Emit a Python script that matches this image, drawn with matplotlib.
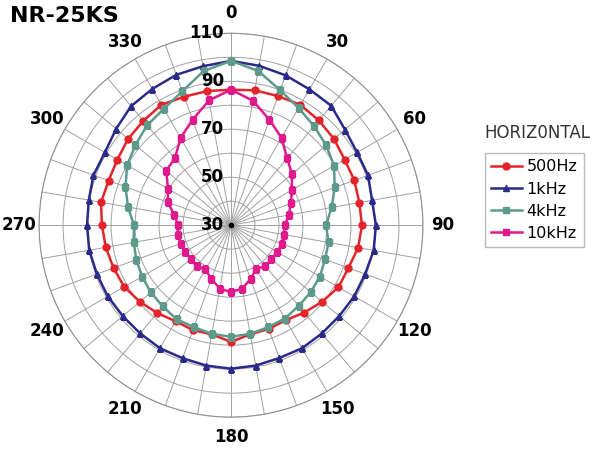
import numpy as np
import matplotlib
matplotlib.use("Agg")
import matplotlib.pyplot as plt

angles = list(range(0, 360, 10))
hz500 = [86.5, 87.1, 87.3, 87.9, 87.0, 86.0, 84.7, 84.7, 84.3, 84.6, 83.8, 82.1, 81.7, 79.6, 77.5, 75.7, 76.0, 76.2,
         78.6, 76.2, 76.5, 76.2, 77.8, 79.6, 81.4, 82.1, 83.0, 83.8, 85.0, 84.3, 84.7, 86.0, 86.8, 88.0, 87.0, 86.8]
khz1 = [98.5, 97.5, 96.5, 95.4, 95.0, 92.0, 90.7, 90.8, 89.7, 90.4, 90.4, 89.5, 89.3, 88.9, 88.9, 89.2, 88.9, 89.4,
        89.8, 89.4, 89.0, 89.2, 88.9, 88.9, 89.3, 89.5, 90.0, 90.0, 90.2, 91.0, 90.7, 92.5, 94.8, 95.6, 96.7, 97.3]
khz4 = [98.5, 95.3, 89.9, 86.4, 83.9, 81.8, 79.6, 76.0, 72.6, 69.6, 71.3, 71.7, 72.8, 73.4, 73.9, 74.9, 75.2, 76.0,
        76.5, 76.0, 75.2, 75.3, 74.2, 73.6, 72.8, 72.0, 71.2, 70.4, 73.6, 76.8, 80.0, 82.0, 84.4, 86.0, 89.4, 95.3]
khz10 = [86.5, 82.7, 76.8, 72.1, 66.4, 63.2, 59.3, 56.6, 54.4, 52.5, 52.5, 52.5, 52.3, 52.0, 52.3, 51.0, 53.9, 56.8,
         57.9, 56.8, 53.9, 51.3, 52.3, 52.0, 52.0, 52.3, 52.6, 52.0, 54.0, 58.0, 60.3, 65.3, 66.4, 72.0, 76.8, 82.8]
series = [("500Hz", hz500, "#e3242b", "o"), ("1kHz", khz1, "#2a2a8a", "^"),
          ("4kHz", khz4, "#5e9a8b", "s"), ("10kHz", khz10, "#e01a8c", "s")]
rlabels = [30, 50, 70, 90, 110]

fig = plt.figure(figsize=(6, 4.5), dpi=100)
ax = fig.add_axes([0.065, 0.073, 0.64, 0.853], projection="polar")
ax.set_theta_zero_location("N")
ax.set_theta_direction(-1)
ax.set_ylim(30, 110)
ax.set_yticks(np.arange(30, 111, 10))
ax.set_yticklabels([])
ax.set_xticks(np.deg2rad(np.arange(0, 360, 10)))
ax.set_xticklabels([str(a) if a % 30 == 0 else "" for a in range(0, 360, 10)],
                   fontsize=12, fontweight="bold")
ax.tick_params(axis="x", pad=4)
ax.grid(color="#a0a0a0", linewidth=0.7)
ax.spines["polar"].set_color("#909090")
ax.spines["polar"].set_linewidth(0.8)

th = np.deg2rad(angles + [angles[0]])
for name, vals, col, mk in series:
    ax.plot(th, vals + [vals[0]], color=col, marker=mk, markersize=5, linewidth=1.8, label=name)

for r in rlabels:
    ax.annotate(str(r), xy=(0, r), xytext=(-5, 0), textcoords="offset points",
                ha="right", va="center", fontsize=12, fontweight="bold")
ax.plot([0], [30], "o", color="black", markersize=3)

fig.text(0.017, 0.965, "NR-25KS", fontsize=16, fontweight="bold", va="center", ha="left")
leg = fig.legend(loc="center left", bbox_to_anchor=(0.808, 0.555), fontsize=11.5, frameon=True,
                 fancybox=False, edgecolor="#aaaaaa", handlelength=1.9, labelspacing=0.45, borderpad=0.4,
                 handletextpad=0.3, borderaxespad=0)
fig.text(0.895, 0.705, "HORIZ0NTAL", fontsize=12, ha="center", va="center", color="#333333")
fig.savefig("out.png", dpi=100)
